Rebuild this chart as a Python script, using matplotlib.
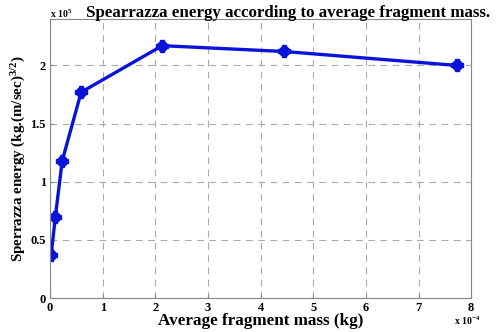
import matplotlib.pyplot as plt

# average fragment mass (x 1e-4 kg) and Sperrazza energy (x 1e5)
masa = [0.02, 0.10, 0.23, 0.59, 2.13, 4.45, 7.73]
energia = [0.37, 0.70, 1.18, 1.77, 2.17, 2.12, 2.00]
xticks = [0, 1, 2, 3, 4, 5, 6, 7, 8]
yticks = [0, 0.5, 1, 1.5, 2]

plt.rcParams['font.family'] = ['Liberation Serif', 'DejaVu Serif']
plt.rcParams['font.weight'] = 'bold'
plt.rcParams['mathtext.fontset'] = 'custom'
plt.rcParams['mathtext.rm'] = 'Liberation Serif:bold'
plt.rcParams['mathtext.it'] = 'Liberation Serif:bold'

azul = '#0a14d8'
fig = plt.figure(figsize=(4.96, 3.32), dpi=100)
ax = fig.add_axes([0.101, 0.102, 0.849, 0.841])

ax.plot(masa, energia, color=azul, linewidth=2.4, marker='o',
        markersize=7, markerfacecolor=azul, markeredgecolor=azul)
ax.plot(masa, energia, linestyle='none', marker='P', markersize=8.5,
        markerfacecolor=azul, markeredgecolor=azul)

ax.set_xlim(0, 8)
ax.set_ylim(0, 2.4)
ax.set_xticks(xticks)
ax.set_yticks(yticks)
ax.set_xticklabels([str(t) for t in xticks], fontsize=9, fontweight='bold')
ax.set_yticklabels(['0', '0.5', '1', '1.5', '2'], fontsize=9, fontweight='bold')
ax.tick_params(direction='in', length=3, color='#888888', pad=3)
ax.grid(True, linestyle=(0, (6, 5)), color='#aaaaaa', linewidth=0.8)
for s in ax.spines.values():
    s.set_color('#888888')
    s.set_linewidth(0.8)

ax.set_xlabel('Average fragment mass (kg)', fontsize=12.3, fontweight='bold', labelpad=-1)
ax.set_ylabel('Sperrazza energy (kg.(m/sec)$^{3/2}$)', fontsize=10.8, fontweight='bold', labelpad=2)
fig.text(0.581, 0.962, 'Spearrazza energy according to average fragment mass.',
         ha='center', va='center', fontsize=12.2, fontweight='bold')
fig.text(0.1, 0.958, 'x 10$^{5}$', ha='left', va='center', fontsize=7, fontweight='bold')
fig.text(0.915, 0.035, 'x 10$^{-4}$', ha='left', va='center', fontsize=7, fontweight='bold')

fig.savefig('out.png', dpi=100)
